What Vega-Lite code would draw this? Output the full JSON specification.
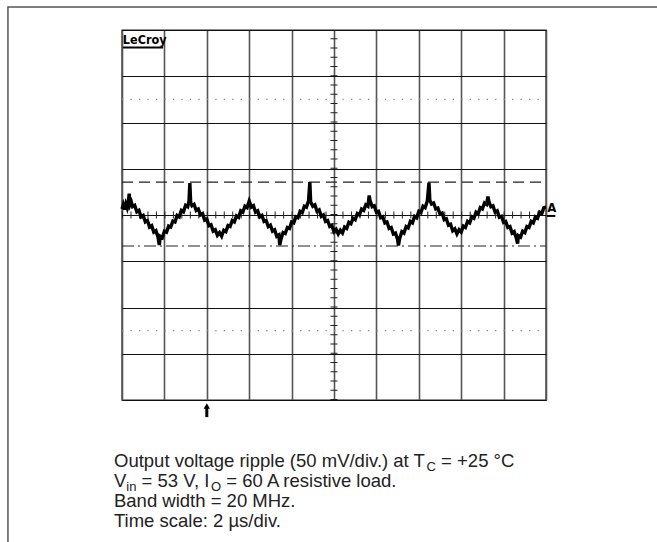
{
  "$schema": "https://vega.github.io/schema/vega-lite/v6.json",
  "width": 424,
  "height": 370,
  "autosize": {"type": "none"},
  "padding": {"left": 122, "top": 30, "right": 111, "bottom": 142},
  "background": "white",
  "config": {
    "view": {"stroke": "#222", "strokeWidth": 1.4},
    "axis": {"labels": false, "ticks": false, "domain": false, "title": null, "grid": true}
  },
  "layer": [
    {
      "data": {"values": [{"x": -2.69, "x2": 12.74, "y": 4.5, "y2": -7.24}]},
      "mark": {"type": "rect", "fill": "transparent", "stroke": "#555", "strokeWidth": 1.5},
      "encoding": {
        "x": {"field": "x", "type": "quantitative", "scale": {"domain": [0, 10], "nice": false, "zero": false},
              "axis": {"values": [0,1,2,3,4,5,6,7,8,9,10], "gridColor": "#555", "gridWidth": 1.6}},
        "x2": {"field": "x2"},
        "y": {"field": "y", "type": "quantitative", "scale": {"domain": [-4, 4], "nice": false, "zero": false},
              "axis": {"values": [-4,-3,-2,-1,0,1,2,3,4], "gridColor": "#111", "gridWidth": 1.2}},
        "y2": {"field": "y2"}
      }
    },
    {
      "data": {"values": [{"x": 0, "x2": 10, "y": 0}]},
      "mark": {"type": "rule", "color": "#222", "strokeWidth": 7, "strokeDash": [1, 7.48]},
      "encoding": {"x": {"field": "x", "type": "quantitative"}, "x2": {"field": "x2"}, "y": {"field": "y", "type": "quantitative"}}
    },
    {
      "data": {"values": [{"x": 5, "y": -4, "y2": 4}]},
      "mark": {"type": "rule", "color": "#222", "strokeWidth": 7, "strokeDash": [1, 8.25]},
      "encoding": {"x": {"field": "x", "type": "quantitative"}, "y": {"field": "y", "type": "quantitative"}, "y2": {"field": "y2"}}
    },
    {
      "data": {"values": [{"x": 0, "x2": 10, "y": 2.5}, {"x": 0, "x2": 10, "y": -2.5}]},
      "mark": {"type": "rule", "color": "#888", "strokeWidth": 1.3, "strokeDash": [1.3, 7.18]},
      "encoding": {"x": {"field": "x", "type": "quantitative"}, "x2": {"field": "x2"}, "y": {"field": "y", "type": "quantitative"}}
    },
    {
      "data": {"values": [{"x": 0, "x2": 10, "y": 0.71}]},
      "mark": {"type": "rule", "color": "#222", "strokeWidth": 1.2, "strokeDash": [11, 6]},
      "encoding": {"x": {"field": "x", "type": "quantitative"}, "x2": {"field": "x2"}, "y": {"field": "y", "type": "quantitative"}}
    },
    {
      "data": {"values": [{"x": 0, "x2": 10, "y": -0.67}]},
      "mark": {"type": "rule", "color": "#222", "strokeWidth": 1.2, "strokeDash": [12, 4, 2, 4]},
      "encoding": {"x": {"field": "x", "type": "quantitative"}, "x2": {"field": "x2"}, "y": {"field": "y", "type": "quantitative"}}
    },
    {
      "data": {"values": [
        {"t":0.00,"v":0.13},{"t":0.03,"v":0.22},{"t":0.06,"v":0.12},{"t":0.09,"v":0.24},{"t":0.12,"v":0.16},{"t":0.15,"v":0.30},{"t":0.17,"v":0.46},{"t":0.19,"v":0.22},{"t":0.22,"v":0.28},
        {"t":0.25,"v":0.18},{"t":0.30,"v":0.21},{"t":0.35,"v":0.07},{"t":0.40,"v":0.10},{"t":0.45,"v":-0.04},{"t":0.50,"v":-0.01},{"t":0.55,"v":-0.15},{"t":0.60,"v":-0.12},{"t":0.65,"v":-0.26},{"t":0.70,"v":-0.23},{"t":0.75,"v":-0.37},{"t":0.80,"v":-0.34},{"t":0.85,"v":-0.48},{"t":0.88,"v":-0.65},{"t":0.90,"v":-0.46},
        {"t":0.95,"v":-0.49},{"t":1.00,"v":-0.35},{"t":1.05,"v":-0.37},{"t":1.10,"v":-0.24},{"t":1.15,"v":-0.26},{"t":1.20,"v":-0.13},{"t":1.25,"v":-0.15},{"t":1.30,"v":-0.01},{"t":1.35,"v":-0.04},{"t":1.40,"v":0.10},{"t":1.45,"v":0.07},{"t":1.50,"v":0.21},{"t":1.55,"v":0.18},{"t":1.58,"v":0.30},{"t":1.60,"v":0.69},{"t":1.62,"v":0.27},
        {"t":1.65,"v":0.20},{"t":1.70,"v":0.23},{"t":1.75,"v":0.10},{"t":1.80,"v":0.13},{"t":1.85,"v":0.00},{"t":1.90,"v":0.03},{"t":1.95,"v":-0.11},{"t":2.00,"v":-0.09},{"t":2.05,"v":-0.23},{"t":2.10,"v":-0.21},{"t":2.15,"v":-0.35},{"t":2.20,"v":-0.32},{"t":2.25,"v":-0.44},{"t":2.30,"v":-0.38},{"t":2.35,"v":-0.46},
        {"t":2.40,"v":-0.33},{"t":2.45,"v":-0.36},{"t":2.50,"v":-0.23},{"t":2.55,"v":-0.25},{"t":2.60,"v":-0.12},{"t":2.65,"v":-0.15},{"t":2.70,"v":-0.02},{"t":2.75,"v":-0.05},{"t":2.80,"v":0.09},{"t":2.85,"v":0.06},{"t":2.90,"v":0.19},{"t":2.95,"v":0.16},{"t":3.00,"v":0.30},
        {"t":3.05,"v":0.17},{"t":3.10,"v":0.20},{"t":3.15,"v":0.06},{"t":3.20,"v":0.09},{"t":3.25,"v":-0.04},{"t":3.30,"v":-0.01},{"t":3.35,"v":-0.14},{"t":3.40,"v":-0.12},{"t":3.45,"v":-0.25},{"t":3.50,"v":-0.22},{"t":3.55,"v":-0.35},{"t":3.60,"v":-0.32},{"t":3.65,"v":-0.46},{"t":3.70,"v":-0.43},{"t":3.72,"v":-0.65},{"t":3.75,"v":-0.52},
        {"t":3.80,"v":-0.38},{"t":3.85,"v":-0.40},{"t":3.90,"v":-0.27},{"t":3.95,"v":-0.29},{"t":4.00,"v":-0.15},{"t":4.05,"v":-0.17},{"t":4.10,"v":-0.04},{"t":4.15,"v":-0.06},{"t":4.20,"v":0.08},{"t":4.25,"v":0.05},{"t":4.30,"v":0.19},{"t":4.35,"v":0.17},{"t":4.40,"v":0.31},{"t":4.43,"v":0.71},{"t":4.45,"v":0.28},
        {"t":4.50,"v":0.19},{"t":4.55,"v":0.22},{"t":4.60,"v":0.08},{"t":4.65,"v":0.11},{"t":4.70,"v":-0.03},{"t":4.75,"v":0.00},{"t":4.80,"v":-0.14},{"t":4.85,"v":-0.12},{"t":4.90,"v":-0.25},{"t":4.95,"v":-0.23},{"t":5.00,"v":-0.36},{"t":5.05,"v":-0.31},{"t":5.10,"v":-0.41},{"t":5.15,"v":-0.33},{"t":5.20,"v":-0.39},
        {"t":5.25,"v":-0.26},{"t":5.30,"v":-0.29},{"t":5.35,"v":-0.16},{"t":5.40,"v":-0.19},{"t":5.45,"v":-0.07},{"t":5.50,"v":-0.10},{"t":5.55,"v":0.03},{"t":5.60,"v":0.00},{"t":5.65,"v":0.13},{"t":5.70,"v":0.10},{"t":5.75,"v":0.22},{"t":5.80,"v":0.19},{"t":5.83,"v":0.42},{"t":5.85,"v":0.32},
        {"t":5.90,"v":0.18},{"t":5.95,"v":0.20},{"t":6.00,"v":0.06},{"t":6.05,"v":0.08},{"t":6.10,"v":-0.06},{"t":6.15,"v":-0.04},{"t":6.20,"v":-0.17},{"t":6.25,"v":-0.15},{"t":6.30,"v":-0.29},{"t":6.35,"v":-0.27},{"t":6.40,"v":-0.41},{"t":6.45,"v":-0.39},{"t":6.50,"v":-0.53},{"t":6.52,"v":-0.66},{"t":6.55,"v":-0.50},
        {"t":6.60,"v":-0.36},{"t":6.65,"v":-0.39},{"t":6.70,"v":-0.25},{"t":6.75,"v":-0.28},{"t":6.80,"v":-0.14},{"t":6.85,"v":-0.17},{"t":6.90,"v":-0.03},{"t":6.95,"v":-0.06},{"t":7.00,"v":0.08},{"t":7.05,"v":0.05},{"t":7.10,"v":0.19},{"t":7.15,"v":0.16},{"t":7.20,"v":0.30},{"t":7.24,"v":0.70},{"t":7.26,"v":0.32},
        {"t":7.30,"v":0.24},{"t":7.35,"v":0.26},{"t":7.40,"v":0.13},{"t":7.45,"v":0.15},{"t":7.50,"v":0.02},{"t":7.55,"v":0.04},{"t":7.60,"v":-0.10},{"t":7.65,"v":-0.08},{"t":7.70,"v":-0.22},{"t":7.75,"v":-0.20},{"t":7.80,"v":-0.34},{"t":7.85,"v":-0.30},{"t":7.90,"v":-0.41},{"t":7.95,"v":-0.32},{"t":8.00,"v":-0.37},
        {"t":8.05,"v":-0.24},{"t":8.10,"v":-0.27},{"t":8.15,"v":-0.14},{"t":8.20,"v":-0.17},{"t":8.25,"v":-0.04},{"t":8.30,"v":-0.07},{"t":8.35,"v":0.06},{"t":8.40,"v":0.03},{"t":8.45,"v":0.16},{"t":8.50,"v":0.13},{"t":8.55,"v":0.26},{"t":8.60,"v":0.23},{"t":8.63,"v":0.40},{"t":8.66,"v":0.27},
        {"t":8.70,"v":0.18},{"t":8.75,"v":0.20},{"t":8.80,"v":0.06},{"t":8.85,"v":0.09},{"t":8.90,"v":-0.05},{"t":8.95,"v":-0.03},{"t":9.00,"v":-0.16},{"t":9.05,"v":-0.14},{"t":9.10,"v":-0.27},{"t":9.15,"v":-0.25},{"t":9.20,"v":-0.39},{"t":9.25,"v":-0.36},{"t":9.30,"v":-0.50},{"t":9.33,"v":-0.62},{"t":9.35,"v":-0.45},
        {"t":9.40,"v":-0.48},{"t":9.45,"v":-0.35},{"t":9.50,"v":-0.38},{"t":9.55,"v":-0.25},{"t":9.60,"v":-0.27},{"t":9.65,"v":-0.14},{"t":9.70,"v":-0.17},{"t":9.75,"v":-0.04},{"t":9.80,"v":-0.07},{"t":9.85,"v":0.06},{"t":9.90,"v":0.03},{"t":9.95,"v":0.16},{"t":10.00,"v":0.17}
      ]},
      "mark": {"type": "line", "color": "#000", "strokeWidth": 3.4, "strokeJoin": "miter"},
      "encoding": {"x": {"field": "t", "type": "quantitative"}, "y": {"field": "v", "type": "quantitative"}}
    },
    {
      "data": {"values": [{"x": 0.02, "y": 3.70, "label": "LeCroy"}]},
      "mark": {"type": "text", "align": "left", "baseline": "alphabetic", "font": "DejaVu Sans Condensed, DejaVu Sans", "fontWeight": "bold", "fontSize": 12.5, "color": "#000"},
      "encoding": {"x": {"field": "x", "type": "quantitative"}, "y": {"field": "y", "type": "quantitative"}, "text": {"field": "label"}}
    },
    {
      "data": {"values": [{"x": 0.02, "x2": 0.97, "y": 3.62}, {"x": 10.02, "x2": 10.22, "y": -0.02}]},
      "mark": {"type": "rule", "color": "#000", "strokeWidth": 2},
      "encoding": {"x": {"field": "x", "type": "quantitative"}, "x2": {"field": "x2"}, "y": {"field": "y", "type": "quantitative"}}
    },
    {
      "data": {"values": [{"x": 10.03, "y": 0.07, "label": "A"}]},
      "mark": {"type": "text", "align": "left", "baseline": "alphabetic", "font": "DejaVu Sans Condensed, DejaVu Sans", "fontWeight": "bold", "fontSize": 13, "color": "#000"},
      "encoding": {"x": {"field": "x", "type": "quantitative"}, "y": {"field": "y", "type": "quantitative"}, "text": {"field": "label"}}
    },
    {
      "data": {"values": [{"x": 2, "y": -4.37, "y2": -4.14}]},
      "mark": {"type": "rule", "color": "#000", "strokeWidth": 3},
      "encoding": {"x": {"field": "x", "type": "quantitative"}, "y": {"field": "y", "type": "quantitative"}, "y2": {"field": "y2"}}
    },
    {
      "data": {"values": [{"x": 2, "y": -4.13}]},
      "mark": {"type": "point", "shape": "triangle-up", "filled": true, "color": "#000", "size": 40, "opacity": 1},
      "encoding": {"x": {"field": "x", "type": "quantitative"}, "y": {"field": "y", "type": "quantitative"}}
    },
    {
      "data": {"values": [
        {"x": -0.189, "y": -5.449, "label": "Output voltage ripple (50 mV/div.) at T"},
        {"x": 7.526, "y": -5.449, "label": "= +25 °C"},
        {"x": -0.189, "y": -5.881, "label": "V"},
        {"x": 0.462, "y": -5.881, "label": "= 53 V, I"},
        {"x": 2.459, "y": -5.881, "label": "= 60 A resistive load."},
        {"x": -0.189, "y": -6.314, "label": "Band width = 20 MHz."},
        {"x": -0.189, "y": -6.746, "label": "Time scale: 2 µs/div."}
      ]},
      "mark": {"type": "text", "align": "left", "baseline": "alphabetic", "font": "Liberation Sans, Arial, sans-serif", "fontSize": 18.5, "color": "#222"},
      "encoding": {"x": {"field": "x", "type": "quantitative"}, "y": {"field": "y", "type": "quantitative"}, "text": {"field": "label"}}
    },
    {
      "data": {"values": [
        {"x": 7.183, "y": -5.535, "label": "C"},
        {"x": 0.102, "y": -5.967, "label": "in"},
        {"x": 2.099, "y": -5.967, "label": "O"}
      ]},
      "mark": {"type": "text", "align": "left", "baseline": "alphabetic", "font": "Liberation Sans, Arial, sans-serif", "fontSize": 13, "color": "#222"},
      "encoding": {"x": {"field": "x", "type": "quantitative"}, "y": {"field": "y", "type": "quantitative"}, "text": {"field": "label"}}
    }
  ]
}
